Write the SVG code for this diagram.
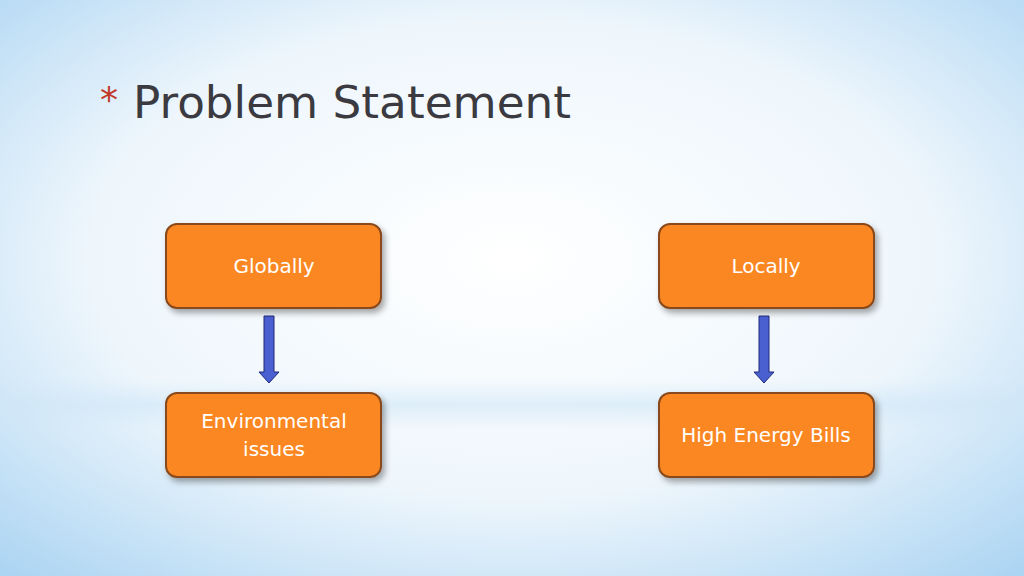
<svg xmlns="http://www.w3.org/2000/svg" width="1024" height="576" viewBox="0 0 1024 576">
<defs>
<radialGradient id="bg" cx="0.5" cy="0.45" r="0.75">
<stop offset="0" stop-color="#ffffff"/>
<stop offset="0.55" stop-color="#eef6fc"/>
<stop offset="1" stop-color="#a9d3f2"/>
</radialGradient>
<linearGradient id="band" x1="0" y1="0" x2="0" y2="1">
<stop offset="0" stop-color="#cfe6f7" stop-opacity="0"/>
<stop offset="0.5" stop-color="#cfe6f7" stop-opacity="0.6"/>
<stop offset="1" stop-color="#cfe6f7" stop-opacity="0"/>
</linearGradient>
<filter id="sh" x="-10%" y="-10%" width="130%" height="140%">
<feDropShadow dx="3" dy="4" stdDeviation="3" flood-color="#000" flood-opacity="0.35"/>
</filter>
</defs>
<style>
.box{fill:#fb8723;stroke:#8a4a1a;stroke-width:2;filter:url(#sh)}
.lbl{font-family:"DejaVu Sans","Noto Sans",sans-serif;font-size:20px;fill:#fff;text-anchor:middle}
.arr{fill:#4a5fd0;stroke:#1f2a7a;stroke-width:1}
</style>
<rect width="1024" height="576" fill="url(#bg)"/>
<rect y="380" width="1024" height="50" fill="url(#band)"/>
<text x="100" y="112" font-family="DejaVu Sans, sans-serif" font-size="36" fill="#c0392b">*</text>
<text x="133" y="118" font-family="DejaVu Sans, sans-serif" font-size="44" fill="#3a3a40" textLength="438" lengthAdjust="spacingAndGlyphs">Problem Statement</text>
<g id="connectors">
<polygon class="arr" points="264,316 274,316 274,372 279,372 269,383 259,372 264,372"/>
<polygon class="arr" points="759,316 769,316 769,372 774,372 764,383 754,372 759,372"/>
</g>
<g id="globally"><rect class="box" x="166" y="224" width="215" height="84" rx="11"/><text class="lbl" x="274" y="273">Globally</text></g>
<g id="locally"><rect class="box" x="659" y="224" width="215" height="84" rx="11"/><text class="lbl" x="766" y="273">Locally</text></g>
<g id="env"><rect class="box" x="166" y="393" width="215" height="84" rx="11"/><text class="lbl" x="274" y="428">Environmental</text><text class="lbl" x="274" y="456">issues</text></g>
<g id="bills"><rect class="box" x="659" y="393" width="215" height="84" rx="11"/><text class="lbl" x="766" y="442">High Energy Bills</text></g>
</svg>
